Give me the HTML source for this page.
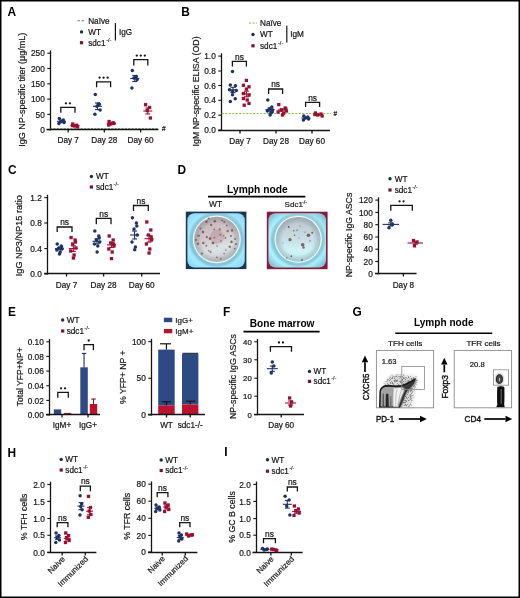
<!DOCTYPE html>
<html><head><meta charset="utf-8"><style>
html,body{margin:0;padding:0;background:#fff;overflow:hidden;}
svg{display:block;font-family:"Liberation Sans", sans-serif;will-change:transform;}
</style></head><body>
<svg width="520" height="598" viewBox="0 0 520 598">
<rect x="0" y="0" width="520" height="598" fill="#fff"/>
<defs>
<filter id="bl1" x="-20%" y="-20%" width="140%" height="140%"><feGaussianBlur stdDeviation="0.6"/></filter>
<filter id="bl2" x="-20%" y="-20%" width="140%" height="140%"><feGaussianBlur stdDeviation="1.4"/></filter>
<filter id="bl3" x="-50%" y="-50%" width="200%" height="200%"><feGaussianBlur stdDeviation="0.6"/></filter>
<radialGradient id="cyanA" cx="0.5" cy="0.5" r="0.62"><stop offset="0.55" stop-color="#4a7488"/><stop offset="0.63" stop-color="#86daf8"/><stop offset="0.8" stop-color="#a8ecff"/><stop offset="1" stop-color="#8fdcf8"/></radialGradient>
<radialGradient id="cyanB" cx="0.5" cy="0.5" r="0.62"><stop offset="0.55" stop-color="#52808f"/><stop offset="0.63" stop-color="#90e4f8"/><stop offset="0.8" stop-color="#b0f4ff"/><stop offset="1" stop-color="#86c6da"/></radialGradient>
<linearGradient id="insA" x1="0" y1="0" x2="0.3" y2="1"><stop offset="0" stop-color="#c2b5ba"/><stop offset="0.5" stop-color="#cdc6c8"/><stop offset="0.8" stop-color="#d9e4e4"/><stop offset="1" stop-color="#cfd3d5"/></linearGradient>
<linearGradient id="insB" x1="0" y1="0" x2="0" y2="1"><stop offset="0" stop-color="#bcc4cc"/><stop offset="0.45" stop-color="#c6dce2"/><stop offset="0.75" stop-color="#cdf4f6"/><stop offset="1" stop-color="#c4ecf0"/></linearGradient>
<radialGradient id="vig" cx="0.5" cy="0.5" r="0.5"><stop offset="0.7" stop-color="#000" stop-opacity="0"/><stop offset="1" stop-color="#405060" stop-opacity="0.25"/></radialGradient>
</defs>
<rect x="185.8" y="211.6" width="60.599999999999994" height="57.50000000000003" fill="#1f3452"/>
<rect x="187.4" y="213.2" width="57.39999999999999" height="54.300000000000026" rx="7" fill="url(#cyanA)" filter="url(#bl1)"/>
<circle cx="216.8" cy="239.4" r="25.7" fill="none" stroke="#4d6f82" stroke-width="2.0" filter="url(#bl2)" opacity="0.55"/>
<circle cx="216.8" cy="239.4" r="23.9" fill="#f2f6f6"/>
<circle cx="216.8" cy="239.4" r="22.7" fill="url(#insA)"/>
<circle cx="216.8" cy="239.4" r="22.7" fill="url(#vig)"/>
<g filter="url(#bl3)"><circle cx="217.0" cy="237.0" r="7.00" fill="#a0606a" opacity="0.25"/><circle cx="206.5" cy="221.7" r="1.17" fill="#7c4248" opacity="0.89"/><circle cx="214.8" cy="221.3" r="1.26" fill="#86474e" opacity="0.86"/><circle cx="222.0" cy="220.3" r="0.92" fill="#86474e" opacity="0.88"/><circle cx="200.4" cy="228.5" r="1.03" fill="#86474e" opacity="0.75"/><circle cx="214.3" cy="229.4" r="0.92" fill="#7c4248" opacity="0.70"/><circle cx="219.7" cy="229.4" r="1.26" fill="#905058" opacity="0.69"/><circle cx="226.8" cy="225.6" r="0.87" fill="#7c4248" opacity="0.76"/><circle cx="232.1" cy="230.4" r="1.29" fill="#86474e" opacity="0.70"/><circle cx="198.5" cy="235.7" r="1.29" fill="#86474e" opacity="0.72"/><circle cx="206.8" cy="237.1" r="1.07" fill="#7c4248" opacity="0.81"/><circle cx="210.0" cy="238.6" r="1.28" fill="#86474e" opacity="0.89"/><circle cx="214.4" cy="237.6" r="0.95" fill="#905058" opacity="0.75"/><circle cx="220.2" cy="234.7" r="0.93" fill="#905058" opacity="0.73"/><circle cx="223.8" cy="235.7" r="0.80" fill="#7c4248" opacity="0.83"/><circle cx="225.4" cy="238.1" r="0.98" fill="#905058" opacity="0.77"/><circle cx="235.2" cy="239.0" r="1.04" fill="#7c4248" opacity="0.69"/><circle cx="203.3" cy="242.9" r="1.27" fill="#7c4248" opacity="0.74"/><circle cx="206.3" cy="245.8" r="1.07" fill="#905058" opacity="0.74"/><circle cx="220.9" cy="241.0" r="0.80" fill="#86474e" opacity="0.83"/><circle cx="231.5" cy="241.9" r="1.28" fill="#86474e" opacity="0.84"/><circle cx="229.8" cy="246.7" r="1.27" fill="#905058" opacity="0.78"/><circle cx="208.6" cy="250.6" r="0.93" fill="#905058" opacity="0.68"/><circle cx="210.5" cy="252.0" r="1.20" fill="#905058" opacity="0.66"/><circle cx="224.1" cy="253.5" r="0.85" fill="#905058" opacity="0.78"/><circle cx="216.9" cy="257.3" r="0.87" fill="#905058" opacity="0.88"/><circle cx="220.8" cy="258.8" r="0.96" fill="#905058" opacity="0.73"/><circle cx="201.8" cy="253.5" r="1.11" fill="#7c4248" opacity="0.82"/><circle cx="234.7" cy="248.7" r="0.88" fill="#86474e" opacity="0.67"/><circle cx="197.9" cy="243.8" r="1.26" fill="#86474e" opacity="0.71"/><circle cx="211.1" cy="225.0" r="1.21" fill="#905058" opacity="0.81"/><circle cx="227.7" cy="231.0" r="1.29" fill="#7c4248" opacity="0.66"/><circle cx="203.0" cy="232.0" r="1.22" fill="#86474e" opacity="0.90"/><circle cx="217.1" cy="246.0" r="0.87" fill="#905058" opacity="0.68"/><circle cx="225.9" cy="250.0" r="0.87" fill="#905058" opacity="0.72"/><circle cx="213.0" cy="243.0" r="1.30" fill="#86474e" opacity="0.89"/><circle cx="231.0" cy="236.0" r="1.04" fill="#7c4248" opacity="0.73"/><circle cx="208.8" cy="218.5" r="1.04" fill="#86474e" opacity="0.68"/><circle cx="224.3" cy="222.0" r="1.07" fill="#86474e" opacity="0.81"/><circle cx="196.0" cy="240.0" r="0.97" fill="#86474e" opacity="0.77"/><circle cx="236.0" cy="244.0" r="1.07" fill="#7c4248" opacity="0.74"/></g>
<rect x="266.8" y="211.7" width="60.80000000000001" height="57.5" fill="#8a1a3a"/>
<rect x="268.40000000000003" y="213.29999999999998" width="57.60000000000001" height="54.3" rx="7" fill="url(#cyanB)" filter="url(#bl1)"/>
<circle cx="298.2" cy="239.3" r="25.400000000000002" fill="none" stroke="#4d6f82" stroke-width="2.0" filter="url(#bl2)" opacity="0.55"/>
<circle cx="298.2" cy="239.3" r="23.6" fill="#f2f6f6"/>
<circle cx="298.2" cy="239.3" r="22.400000000000002" fill="url(#insB)"/>
<circle cx="298.2" cy="239.3" r="22.400000000000002" fill="url(#vig)"/>
<g filter="url(#bl3)"><circle cx="288.7" cy="227.0" r="1.00" fill="#6e3e45" opacity="0.80"/><circle cx="293.8" cy="230.8" r="0.80" fill="#6e3e45" opacity="0.80"/><circle cx="297.0" cy="230.2" r="0.70" fill="#6e3e45" opacity="0.80"/><circle cx="290.0" cy="239.7" r="1.60" fill="#6e3e45" opacity="0.80"/><circle cx="294.5" cy="235.3" r="0.80" fill="#6e3e45" opacity="0.80"/><circle cx="308.4" cy="235.3" r="1.80" fill="#6e3e45" opacity="0.80"/><circle cx="312.2" cy="232.7" r="1.00" fill="#6e3e45" opacity="0.80"/><circle cx="302.7" cy="244.8" r="1.80" fill="#6e3e45" opacity="0.80"/><circle cx="303.5" cy="247.5" r="1.20" fill="#6e3e45" opacity="0.80"/><circle cx="291.3" cy="256.2" r="0.90" fill="#6e3e45" opacity="0.80"/><circle cx="302.0" cy="260.0" r="0.90" fill="#6e3e45" opacity="0.80"/><circle cx="286.8" cy="258.0" r="0.70" fill="#6e3e45" opacity="0.80"/><circle cx="299.0" cy="238.0" r="0.60" fill="#6e3e45" opacity="0.80"/><circle cx="305.0" cy="232.0" r="0.60" fill="#6e3e45" opacity="0.80"/><circle cx="283.0" cy="243.0" r="0.60" fill="#6e3e45" opacity="0.80"/><circle cx="300.0" cy="226.0" r="0.60" fill="#6e3e45" opacity="0.80"/><circle cx="310.0" cy="241.0" r="0.70" fill="#6e3e45" opacity="0.80"/></g>
<defs>
<filter id="fb1" x="-20%" y="-20%" width="140%" height="140%"><feGaussianBlur stdDeviation="0.9"/></filter>
<filter id="fb2" x="-20%" y="-20%" width="140%" height="140%"><feGaussianBlur stdDeviation="0.35"/></filter>
<filter id="fb3" x="-30%" y="-30%" width="160%" height="160%"><feGaussianBlur stdDeviation="1.8"/></filter>
<filter id="spk" x="0" y="0" width="100%" height="100%"><feTurbulence type="fractalNoise" baseFrequency="1.4" numOctaves="2" seed="4" result="n"/><feColorMatrix in="n" type="matrix" values="0 0 0 0 0  0 0 0 0 0  0 0 0 0 0  8 0 0 0 -3.9" result="a"/><feComposite in="SourceGraphic" in2="a" operator="in" result="c"/><feGaussianBlur in="c" stdDeviation="0.3"/></filter>
</defs>
<path d="M382,392 C383,384 387,378 393,375.5 C399,373.5 406,375 411,376 C414,376.5 416.5,376 418,377.5 C418,381 416,385 414.5,389 C413,394 412,400 411.5,407.4 L399,407.4 L404,395 L410,387 L414.6,379.7 L404,385.3 L395.5,386.5 L388.7,385.7 L382.8,387 Z" fill="#b4b4b4" filter="url(#fb3)" opacity="0.45"/>
<g filter="url(#spk)" opacity="0.6"><path d="M382,392 C383,384 387,378 393,375.5 C399,373.5 406,375 411,376 C414,376.5 416.5,376 418,377.5 C418,381 416,385 414.5,389 C413,394 412,400 411.5,407.4 L399,407.4 L404,395 L410,387 L414.6,379.7 L404,385.3 L395.5,386.5 L388.7,385.7 L382.8,387 Z" fill="#4a4a4a" filter="url(#fb3)"/></g>
<path d="M379.8,407.3 L380.2,391.2 C380.8,388.5 382,387.3 383.5,386.8 C385.5,386 387,385.7 388.7,385.7 C391,385.8 393.5,386.5 395.5,386.5 C397.5,386.4 399,386.2 400.6,386.1 C402,385.9 403,385.6 404,385.3 C405.5,384.5 407,383.8 408.2,383.1 C409.7,382.2 411,381.6 412.4,381 C413.2,380.5 414,380 414.6,379.7 C413.5,382.5 411.5,385.3 409.9,387 C408.5,388.2 407.5,389.3 406.5,390.3 C405.5,392 404.8,393.7 404,395.4 C403.1,397.7 402.2,400 401.4,402.2 C400.8,403.6 400.2,405 399.7,406.4 L399.6,407.3 Z" fill="#a2a2a2" stroke="#181818" stroke-width="1.5" filter="url(#fb2)"/>
<path d="M393.5,406.8 C393.3,400 393.2,394 393.8,388.2 C396,388 398.5,388.1 401,387.9 C402.8,387.7 404.3,387.6 405.3,388.3 C404.5,390.3 403.5,392 402.6,394 C401.6,396.5 400.6,399.5 399.8,402 C399.3,403.8 398.8,405.3 398.4,406.8 Z" fill="#f2f2f2" filter="url(#fb2)"/>
<path d="M395.8,406.5 C395.6,400 395.8,394 396.8,389.5 M398.2,406 C398.6,400 399.5,395 401.5,390" fill="none" stroke="#8a8a8a" stroke-width="0.5"/>
<path d="M402,386 L406,384.5 L410,382.3 L414.8,379.5 L415.5,381.5 L411.5,385.5 L408,389 L405.5,391.5 L404.3,389 Z" fill="#303030" filter="url(#fb1)"/>
<path d="M414.6,379.7 C413.5,382.5 411.5,385.3 409.9,387 C408.5,388.2 407.5,389.3 406.5,390.3 C405.5,392 404.8,393.7 404,395.4 C403.1,397.7 402.2,400 401.4,402.2 C400.8,403.6 400.2,405 399.7,406.4" fill="none" stroke="#3a3a3a" stroke-width="2.2" filter="url(#fb1)"/>
<path d="M383.5,386.6 C386,385.6 389,385.4 392,386 C395,386.4 399,386.2 402,385.8 C405,385 408,383.5 411,381.8 L414.6,379.7" fill="none" stroke="#1e1e1e" stroke-width="1.6" filter="url(#fb2)"/>
<path d="M385.6,407.2 L385.9,395 C386.3,393 388.2,393 388.5,395 L388.8,407.2 Z" fill="#262626" filter="url(#fb2)"/>
<path d="M382.5,407.2 L382.7,393.5 L383.8,393.5 L384,407.2 Z" fill="#505050" filter="url(#fb2)"/>
<path d="M390,407 L390.3,396 L391.3,396 L391.5,407 Z" fill="#6a6a6a" filter="url(#fb2)"/>
<ellipse cx="499.4" cy="378.9" rx="3.9" ry="5.3" fill="#9a9a9a" filter="url(#fb1)"/>
<ellipse cx="499.4" cy="379.1" rx="3.0" ry="4.3" fill="#484848" stroke="#1a1a1a" stroke-width="0.9" filter="url(#fb2)"/>
<ellipse cx="499.6" cy="379.6" rx="0.55" ry="1.9" fill="#cfcfcf" filter="url(#fb2)"/>
<path d="M497.3,387 C497,392 497,400 497.3,404.5 L496.2,407.3 L504.8,407.3 L504.2,404.5 C504.6,400 504.6,392 504.3,387 C503,386 498.6,386 497.3,387 Z" fill="#111" filter="url(#fb2)"/>
<line x1="501.2" y1="389" x2="501.2" y2="404" stroke="#999" stroke-width="0.7"/>
<text x="7.60" y="16.20" font-size="11.9" text-anchor="start" font-weight="bold" fill="#000">A</text>
<text x="24.60" y="89.70" font-size="9.6" text-anchor="middle" font-weight="normal" fill="#141414" stroke="#141414" stroke-width="0.2" transform="rotate(-90 24.60 89.70)" textLength="114" lengthAdjust="spacingAndGlyphs">IgG NP-specific titer (µg/mL)</text>
<line x1="50.50" y1="50.40" x2="50.50" y2="130.30" stroke="#141414" stroke-width="1.3" />
<line x1="47.30" y1="53.20" x2="50.50" y2="53.20" stroke="#141414" stroke-width="1.1" />
<text x="44.80" y="56.35" font-size="8.3" text-anchor="end" font-weight="normal" fill="#141414" stroke="#141414" stroke-width="0.2">250</text>
<line x1="47.30" y1="68.50" x2="50.50" y2="68.50" stroke="#141414" stroke-width="1.1" />
<text x="44.80" y="71.65" font-size="8.3" text-anchor="end" font-weight="normal" fill="#141414" stroke="#141414" stroke-width="0.2">200</text>
<line x1="47.30" y1="83.80" x2="50.50" y2="83.80" stroke="#141414" stroke-width="1.1" />
<text x="44.80" y="86.95" font-size="8.3" text-anchor="end" font-weight="normal" fill="#141414" stroke="#141414" stroke-width="0.2">150</text>
<line x1="47.30" y1="99.10" x2="50.50" y2="99.10" stroke="#141414" stroke-width="1.1" />
<text x="44.80" y="102.25" font-size="8.3" text-anchor="end" font-weight="normal" fill="#141414" stroke="#141414" stroke-width="0.2">100</text>
<line x1="47.30" y1="114.40" x2="50.50" y2="114.40" stroke="#141414" stroke-width="1.1" />
<text x="44.80" y="117.55" font-size="8.3" text-anchor="end" font-weight="normal" fill="#141414" stroke="#141414" stroke-width="0.2">50</text>
<line x1="47.30" y1="129.70" x2="50.50" y2="129.70" stroke="#141414" stroke-width="1.1" />
<text x="44.80" y="132.85" font-size="8.3" text-anchor="end" font-weight="normal" fill="#141414" stroke="#141414" stroke-width="0.2">0</text>
<line x1="50.00" y1="128.90" x2="158.50" y2="128.90" stroke="#3d6b1e" stroke-width="1.0" stroke-dasharray="2.2 1.2"/>
<line x1="46.50" y1="129.50" x2="158.50" y2="129.50" stroke="#141414" stroke-width="1.3" />
<line x1="68.20" y1="129.50" x2="68.20" y2="132.50" stroke="#141414" stroke-width="1.3" />
<line x1="104.30" y1="129.50" x2="104.30" y2="132.50" stroke="#141414" stroke-width="1.3" />
<line x1="140.60" y1="129.50" x2="140.60" y2="132.50" stroke="#141414" stroke-width="1.3" />
<text x="68.20" y="143.20" font-size="8.2" text-anchor="middle" font-weight="normal" fill="#141414" stroke="#141414" stroke-width="0.2">Day 7</text>
<text x="104.30" y="143.20" font-size="8.2" text-anchor="middle" font-weight="normal" fill="#141414" stroke="#141414" stroke-width="0.2">Day 28</text>
<text x="140.60" y="143.20" font-size="8.2" text-anchor="middle" font-weight="normal" fill="#141414" stroke="#141414" stroke-width="0.2">Day 60</text>
<text x="162.00" y="131.30" font-size="6.5" text-anchor="start" font-weight="normal" fill="#141414" stroke="#141414" stroke-width="0.2">#</text>
<line x1="77.50" y1="20.80" x2="85.50" y2="20.80" stroke="#777" stroke-width="1" stroke-dasharray="2.5 1.5"/>
<text x="88.20" y="23.60" font-size="8.2" text-anchor="start" font-weight="normal" fill="#141414" stroke="#141414" stroke-width="0.2">Naïve</text>
<circle cx="81.50" cy="31.90" r="1.7" fill="#1e2b55"/>
<text x="88.20" y="34.80" font-size="8.2" text-anchor="start" font-weight="normal" fill="#141414" stroke="#141414" stroke-width="0.2">WT</text>
<rect x="79.90" y="41.10" width="3.20" height="3.20" fill="#7a1232" />
<text x="88.20" y="45.50" font-size="8.2" text-anchor="start" font-weight="normal" fill="#141414" stroke="#141414" stroke-width="0.2">sdc1</text>
<text x="106.20" y="41.60" font-size="5.6" text-anchor="start" font-weight="normal" fill="#141414" stroke="#141414" stroke-width="0.15">-/-</text>
<line x1="115.40" y1="23.00" x2="115.40" y2="40.50" stroke="#141414" stroke-width="1.2" />
<text x="119.00" y="35.00" font-size="8.2" text-anchor="start" font-weight="normal" fill="#141414" stroke="#141414" stroke-width="0.2">IgG</text>
<circle cx="59.30" cy="118.50" r="1.75" fill="#1f3266"/>
<circle cx="63.30" cy="120.00" r="1.75" fill="#1f3266"/>
<circle cx="60.90" cy="121.50" r="1.75" fill="#1f3266"/>
<circle cx="64.10" cy="122.50" r="1.75" fill="#1f3266"/>
<circle cx="58.90" cy="123.50" r="1.75" fill="#1f3266"/>
<line x1="57.00" y1="121.30" x2="66.00" y2="121.30" stroke="#1f3266" stroke-width="1.1" />
<line x1="61.50" y1="120.00" x2="61.50" y2="122.60" stroke="#1f3266" stroke-width="1.1" />
<line x1="59.00" y1="120.00" x2="64.00" y2="120.00" stroke="#1f3266" stroke-width="1.1" />
<line x1="59.00" y1="122.60" x2="64.00" y2="122.60" stroke="#1f3266" stroke-width="1.1" />
<rect x="71.15" y="122.35" width="3.30" height="3.30" fill="#9a1032" />
<rect x="75.15" y="123.55" width="3.30" height="3.30" fill="#9a1032" />
<rect x="72.75" y="124.35" width="3.30" height="3.30" fill="#9a1032" />
<rect x="75.95" y="125.15" width="3.30" height="3.30" fill="#9a1032" />
<rect x="70.75" y="123.85" width="3.30" height="3.30" fill="#9a1032" />
<line x1="70.50" y1="125.50" x2="79.50" y2="125.50" stroke="#9a1032" stroke-width="1.1" />
<line x1="75.00" y1="124.80" x2="75.00" y2="126.20" stroke="#9a1032" stroke-width="1.1" />
<line x1="72.50" y1="124.80" x2="77.50" y2="124.80" stroke="#9a1032" stroke-width="1.1" />
<line x1="72.50" y1="126.20" x2="77.50" y2="126.20" stroke="#9a1032" stroke-width="1.1" />
<circle cx="95.30" cy="94.60" r="1.75" fill="#1f3266"/>
<circle cx="99.30" cy="104.30" r="1.75" fill="#1f3266"/>
<circle cx="96.90" cy="106.30" r="1.75" fill="#1f3266"/>
<circle cx="100.10" cy="109.90" r="1.75" fill="#1f3266"/>
<circle cx="94.90" cy="114.30" r="1.75" fill="#1f3266"/>
<circle cx="98.30" cy="104.00" r="1.75" fill="#1f3266"/>
<line x1="93.00" y1="106.30" x2="102.00" y2="106.30" stroke="#1f3266" stroke-width="1.1" />
<line x1="97.50" y1="103.00" x2="97.50" y2="109.60" stroke="#1f3266" stroke-width="1.1" />
<line x1="95.00" y1="103.00" x2="100.00" y2="103.00" stroke="#1f3266" stroke-width="1.1" />
<line x1="95.00" y1="109.60" x2="100.00" y2="109.60" stroke="#1f3266" stroke-width="1.1" />
<rect x="107.45" y="119.85" width="3.30" height="3.30" fill="#9a1032" />
<rect x="111.45" y="121.15" width="3.30" height="3.30" fill="#9a1032" />
<rect x="109.05" y="122.35" width="3.30" height="3.30" fill="#9a1032" />
<rect x="112.25" y="121.85" width="3.30" height="3.30" fill="#9a1032" />
<rect x="107.05" y="123.35" width="3.30" height="3.30" fill="#9a1032" />
<line x1="106.80" y1="123.50" x2="115.80" y2="123.50" stroke="#9a1032" stroke-width="1.1" />
<line x1="111.30" y1="122.60" x2="111.30" y2="124.40" stroke="#9a1032" stroke-width="1.1" />
<line x1="108.80" y1="122.60" x2="113.80" y2="122.60" stroke="#9a1032" stroke-width="1.1" />
<line x1="108.80" y1="124.40" x2="113.80" y2="124.40" stroke="#9a1032" stroke-width="1.1" />
<circle cx="132.30" cy="70.50" r="1.75" fill="#1f3266"/>
<circle cx="136.30" cy="76.40" r="1.75" fill="#1f3266"/>
<circle cx="133.90" cy="78.00" r="1.75" fill="#1f3266"/>
<circle cx="137.10" cy="79.50" r="1.75" fill="#1f3266"/>
<circle cx="131.90" cy="88.00" r="1.75" fill="#1f3266"/>
<line x1="130.30" y1="78.50" x2="139.30" y2="78.50" stroke="#1f3266" stroke-width="1.1" />
<line x1="134.80" y1="75.50" x2="134.80" y2="81.50" stroke="#1f3266" stroke-width="1.1" />
<line x1="132.30" y1="75.50" x2="137.30" y2="75.50" stroke="#1f3266" stroke-width="1.1" />
<line x1="132.30" y1="81.50" x2="137.30" y2="81.50" stroke="#1f3266" stroke-width="1.1" />
<rect x="143.95" y="103.05" width="3.30" height="3.30" fill="#9a1032" />
<rect x="147.95" y="105.85" width="3.30" height="3.30" fill="#9a1032" />
<rect x="145.55" y="108.95" width="3.30" height="3.30" fill="#9a1032" />
<rect x="148.75" y="116.35" width="3.30" height="3.30" fill="#9a1032" />
<line x1="143.30" y1="111.00" x2="152.30" y2="111.00" stroke="#9a1032" stroke-width="1.1" />
<line x1="147.80" y1="108.00" x2="147.80" y2="114.00" stroke="#9a1032" stroke-width="1.1" />
<line x1="145.30" y1="108.00" x2="150.30" y2="108.00" stroke="#9a1032" stroke-width="1.1" />
<line x1="145.30" y1="114.00" x2="150.30" y2="114.00" stroke="#9a1032" stroke-width="1.1" />
<polyline points="60.80,112.80 60.80,107.40 75.00,107.40 75.00,112.80" fill="none" stroke="#141414" stroke-width="1.3"/>
<circle cx="65.90" cy="103.30" r="1.15" fill="#141414"/>
<circle cx="69.90" cy="103.30" r="1.15" fill="#141414"/>
<polyline points="96.60,87.20 96.60,81.80 110.60,81.80 110.60,87.20" fill="none" stroke="#141414" stroke-width="1.3"/>
<circle cx="99.60" cy="77.70" r="1.15" fill="#141414"/>
<circle cx="103.60" cy="77.70" r="1.15" fill="#141414"/>
<circle cx="107.60" cy="77.70" r="1.15" fill="#141414"/>
<polyline points="133.80,65.60 133.80,59.70 147.80,59.70 147.80,65.60" fill="none" stroke="#141414" stroke-width="1.3"/>
<circle cx="136.80" cy="55.60" r="1.15" fill="#141414"/>
<circle cx="140.80" cy="55.60" r="1.15" fill="#141414"/>
<circle cx="144.80" cy="55.60" r="1.15" fill="#141414"/>
<text x="181.30" y="16.20" font-size="11.9" text-anchor="start" font-weight="bold" fill="#000">B</text>
<text x="198.60" y="91.40" font-size="9.4" text-anchor="middle" font-weight="normal" fill="#141414" stroke="#141414" stroke-width="0.2" transform="rotate(-90 198.60 91.40)" textLength="110" lengthAdjust="spacingAndGlyphs">IgM NP-specific ELISA (OD)</text>
<line x1="221.50" y1="53.30" x2="221.50" y2="130.60" stroke="#141414" stroke-width="1.3" />
<line x1="218.30" y1="56.10" x2="221.50" y2="56.10" stroke="#141414" stroke-width="1.1" />
<text x="215.80" y="59.25" font-size="8.3" text-anchor="end" font-weight="normal" fill="#141414" stroke="#141414" stroke-width="0.2">1.0</text>
<line x1="218.30" y1="71.00" x2="221.50" y2="71.00" stroke="#141414" stroke-width="1.1" />
<text x="215.80" y="74.15" font-size="8.3" text-anchor="end" font-weight="normal" fill="#141414" stroke="#141414" stroke-width="0.2">0.8</text>
<line x1="218.30" y1="85.50" x2="221.50" y2="85.50" stroke="#141414" stroke-width="1.1" />
<text x="215.80" y="88.65" font-size="8.3" text-anchor="end" font-weight="normal" fill="#141414" stroke="#141414" stroke-width="0.2">0.6</text>
<line x1="218.30" y1="100.30" x2="221.50" y2="100.30" stroke="#141414" stroke-width="1.1" />
<text x="215.80" y="103.45" font-size="8.3" text-anchor="end" font-weight="normal" fill="#141414" stroke="#141414" stroke-width="0.2">0.4</text>
<line x1="218.30" y1="115.20" x2="221.50" y2="115.20" stroke="#141414" stroke-width="1.1" />
<text x="215.80" y="118.35" font-size="8.3" text-anchor="end" font-weight="normal" fill="#141414" stroke="#141414" stroke-width="0.2">0.2</text>
<line x1="218.30" y1="130.00" x2="221.50" y2="130.00" stroke="#141414" stroke-width="1.1" />
<text x="215.80" y="133.15" font-size="8.3" text-anchor="end" font-weight="normal" fill="#141414" stroke="#141414" stroke-width="0.2">0.0</text>
<line x1="218.10" y1="130.50" x2="330.00" y2="130.50" stroke="#141414" stroke-width="1.3" />
<line x1="240.00" y1="130.50" x2="240.00" y2="133.50" stroke="#141414" stroke-width="1.3" />
<line x1="276.00" y1="130.50" x2="276.00" y2="133.50" stroke="#141414" stroke-width="1.3" />
<line x1="312.00" y1="130.50" x2="312.00" y2="133.50" stroke="#141414" stroke-width="1.3" />
<text x="240.00" y="143.50" font-size="8.2" text-anchor="middle" font-weight="normal" fill="#141414" stroke="#141414" stroke-width="0.2">Day 7</text>
<text x="276.00" y="143.50" font-size="8.2" text-anchor="middle" font-weight="normal" fill="#141414" stroke="#141414" stroke-width="0.2">Day 28</text>
<text x="312.00" y="143.50" font-size="8.2" text-anchor="middle" font-weight="normal" fill="#141414" stroke="#141414" stroke-width="0.2">Day 60</text>
<line x1="221.60" y1="113.60" x2="331.00" y2="113.60" stroke="#86c04a" stroke-width="1.0" stroke-dasharray="2.2 1.3"/>
<text x="333.50" y="116.00" font-size="6.5" text-anchor="start" font-weight="normal" fill="#141414" stroke="#141414" stroke-width="0.2">#</text>
<line x1="249.00" y1="23.10" x2="257.00" y2="23.10" stroke="#86c04a" stroke-width="1" stroke-dasharray="2.2 1.3"/>
<text x="260.00" y="25.90" font-size="8.2" text-anchor="start" font-weight="normal" fill="#141414" stroke="#141414" stroke-width="0.2">Naïve</text>
<circle cx="253.00" cy="34.50" r="1.7" fill="#1e2b55"/>
<text x="260.00" y="37.30" font-size="8.2" text-anchor="start" font-weight="normal" fill="#141414" stroke="#141414" stroke-width="0.2">WT</text>
<rect x="251.40" y="44.20" width="3.20" height="3.20" fill="#7a1232" />
<text x="260.00" y="48.60" font-size="8.2" text-anchor="start" font-weight="normal" fill="#141414" stroke="#141414" stroke-width="0.2">sdc1</text>
<text x="278.00" y="44.60" font-size="5.6" text-anchor="start" font-weight="normal" fill="#141414" stroke="#141414" stroke-width="0.15">-/-</text>
<line x1="286.80" y1="25.70" x2="286.80" y2="42.60" stroke="#141414" stroke-width="1.2" />
<text x="290.20" y="37.30" font-size="8.2" text-anchor="start" font-weight="normal" fill="#141414" stroke="#141414" stroke-width="0.2">IgM</text>
<circle cx="232.50" cy="71.40" r="1.75" fill="#1f3266"/>
<circle cx="230.30" cy="84.90" r="1.75" fill="#1f3266"/>
<circle cx="235.50" cy="85.70" r="1.75" fill="#1f3266"/>
<circle cx="229.50" cy="89.80" r="1.75" fill="#1f3266"/>
<circle cx="236.30" cy="90.50" r="1.75" fill="#1f3266"/>
<circle cx="232.50" cy="91.40" r="1.75" fill="#1f3266"/>
<circle cx="232.50" cy="94.80" r="1.75" fill="#1f3266"/>
<circle cx="235.20" cy="98.80" r="1.75" fill="#1f3266"/>
<circle cx="230.30" cy="101.50" r="1.75" fill="#1f3266"/>
<line x1="228.50" y1="89.80" x2="237.50" y2="89.80" stroke="#1f3266" stroke-width="1.1" />
<line x1="233.00" y1="87.30" x2="233.00" y2="92.50" stroke="#1f3266" stroke-width="1.1" />
<line x1="230.50" y1="87.30" x2="235.50" y2="87.30" stroke="#1f3266" stroke-width="1.1" />
<line x1="230.50" y1="92.50" x2="235.50" y2="92.50" stroke="#1f3266" stroke-width="1.1" />
<rect x="244.75" y="78.75" width="3.30" height="3.30" fill="#9a1032" />
<rect x="241.75" y="83.65" width="3.30" height="3.30" fill="#9a1032" />
<rect x="247.35" y="85.15" width="3.30" height="3.30" fill="#9a1032" />
<rect x="244.75" y="87.45" width="3.30" height="3.30" fill="#9a1032" />
<rect x="241.75" y="91.95" width="3.30" height="3.30" fill="#9a1032" />
<rect x="247.35" y="93.45" width="3.30" height="3.30" fill="#9a1032" />
<rect x="241.75" y="96.85" width="3.30" height="3.30" fill="#9a1032" />
<rect x="245.55" y="98.35" width="3.30" height="3.30" fill="#9a1032" />
<rect x="247.35" y="101.75" width="3.30" height="3.30" fill="#9a1032" />
<rect x="242.55" y="103.55" width="3.30" height="3.30" fill="#9a1032" />
<line x1="241.90" y1="94.00" x2="250.90" y2="94.00" stroke="#9a1032" stroke-width="1.1" />
<line x1="246.40" y1="91.20" x2="246.40" y2="96.80" stroke="#9a1032" stroke-width="1.1" />
<line x1="243.90" y1="91.20" x2="248.90" y2="91.20" stroke="#9a1032" stroke-width="1.1" />
<line x1="243.90" y1="96.80" x2="248.90" y2="96.80" stroke="#9a1032" stroke-width="1.1" />
<circle cx="267.80" cy="100.00" r="1.75" fill="#1f3266"/>
<circle cx="271.80" cy="107.00" r="1.75" fill="#1f3266"/>
<circle cx="269.40" cy="109.00" r="1.75" fill="#1f3266"/>
<circle cx="272.60" cy="110.00" r="1.75" fill="#1f3266"/>
<circle cx="267.40" cy="111.00" r="1.75" fill="#1f3266"/>
<circle cx="270.80" cy="113.00" r="1.75" fill="#1f3266"/>
<circle cx="270.10" cy="115.00" r="1.75" fill="#1f3266"/>
<circle cx="272.20" cy="112.00" r="1.75" fill="#1f3266"/>
<line x1="265.50" y1="109.60" x2="274.50" y2="109.60" stroke="#1f3266" stroke-width="1.1" />
<line x1="270.00" y1="108.00" x2="270.00" y2="111.20" stroke="#1f3266" stroke-width="1.1" />
<line x1="267.50" y1="108.00" x2="272.50" y2="108.00" stroke="#1f3266" stroke-width="1.1" />
<line x1="267.50" y1="111.20" x2="272.50" y2="111.20" stroke="#1f3266" stroke-width="1.1" />
<rect x="277.13" y="102.95" width="3.30" height="3.30" fill="#9a1032" />
<rect x="283.53" y="106.35" width="3.30" height="3.30" fill="#9a1032" />
<rect x="279.69" y="108.35" width="3.30" height="3.30" fill="#9a1032" />
<rect x="284.81" y="109.35" width="3.30" height="3.30" fill="#9a1032" />
<rect x="276.49" y="110.35" width="3.30" height="3.30" fill="#9a1032" />
<rect x="281.93" y="111.85" width="3.30" height="3.30" fill="#9a1032" />
<rect x="280.81" y="113.35" width="3.30" height="3.30" fill="#9a1032" />
<rect x="284.17" y="107.35" width="3.30" height="3.30" fill="#9a1032" />
<line x1="277.80" y1="110.00" x2="286.80" y2="110.00" stroke="#9a1032" stroke-width="1.1" />
<line x1="282.30" y1="108.80" x2="282.30" y2="111.20" stroke="#9a1032" stroke-width="1.1" />
<line x1="279.80" y1="108.80" x2="284.80" y2="108.80" stroke="#9a1032" stroke-width="1.1" />
<line x1="279.80" y1="111.20" x2="284.80" y2="111.20" stroke="#9a1032" stroke-width="1.1" />
<circle cx="303.80" cy="116.00" r="1.75" fill="#1f3266"/>
<circle cx="307.80" cy="117.00" r="1.75" fill="#1f3266"/>
<circle cx="305.40" cy="118.00" r="1.75" fill="#1f3266"/>
<circle cx="308.60" cy="119.00" r="1.75" fill="#1f3266"/>
<circle cx="303.40" cy="120.00" r="1.75" fill="#1f3266"/>
<line x1="301.50" y1="118.00" x2="310.50" y2="118.00" stroke="#1f3266" stroke-width="1.1" />
<line x1="306.00" y1="117.30" x2="306.00" y2="118.70" stroke="#1f3266" stroke-width="1.1" />
<line x1="303.50" y1="117.30" x2="308.50" y2="117.30" stroke="#1f3266" stroke-width="1.1" />
<line x1="303.50" y1="118.70" x2="308.50" y2="118.70" stroke="#1f3266" stroke-width="1.1" />
<rect x="313.77" y="111.35" width="3.30" height="3.30" fill="#9a1032" />
<rect x="319.37" y="112.35" width="3.30" height="3.30" fill="#9a1032" />
<rect x="316.01" y="113.35" width="3.30" height="3.30" fill="#9a1032" />
<rect x="320.49" y="114.35" width="3.30" height="3.30" fill="#9a1032" />
<rect x="313.21" y="112.85" width="3.30" height="3.30" fill="#9a1032" />
<line x1="314.00" y1="114.60" x2="323.00" y2="114.60" stroke="#9a1032" stroke-width="1.1" />
<line x1="318.50" y1="114.00" x2="318.50" y2="115.20" stroke="#9a1032" stroke-width="1.1" />
<line x1="316.00" y1="114.00" x2="321.00" y2="114.00" stroke="#9a1032" stroke-width="1.1" />
<line x1="316.00" y1="115.20" x2="321.00" y2="115.20" stroke="#9a1032" stroke-width="1.1" />
<polyline points="232.40,66.40 232.40,61.40 246.40,61.40 246.40,66.40" fill="none" stroke="#141414" stroke-width="1.3"/>
<text x="239.40" y="59.60" font-size="8.4" text-anchor="middle" font-weight="normal" fill="#141414" stroke="#141414" stroke-width="0.2">ns</text>
<polyline points="268.60,94.00 268.60,89.00 282.60,89.00 282.60,94.00" fill="none" stroke="#141414" stroke-width="1.3"/>
<text x="275.60" y="87.20" font-size="8.4" text-anchor="middle" font-weight="normal" fill="#141414" stroke="#141414" stroke-width="0.2">ns</text>
<polyline points="305.60,107.00 305.60,102.40 319.60,102.40 319.60,107.00" fill="none" stroke="#141414" stroke-width="1.3"/>
<text x="312.60" y="100.60" font-size="8.4" text-anchor="middle" font-weight="normal" fill="#141414" stroke="#141414" stroke-width="0.2">ns</text>
<text x="8.00" y="174.00" font-size="11.9" text-anchor="start" font-weight="bold" fill="#000">C</text>
<text x="22.20" y="235.70" font-size="9.6" text-anchor="middle" font-weight="normal" fill="#141414" stroke="#141414" stroke-width="0.2" transform="rotate(-90 22.20 235.70)" textLength="81" lengthAdjust="spacingAndGlyphs">IgG NP3/NP15 ratio</text>
<line x1="47.50" y1="194.80" x2="47.50" y2="274.50" stroke="#141414" stroke-width="1.3" />
<line x1="44.30" y1="197.60" x2="47.50" y2="197.60" stroke="#141414" stroke-width="1.1" />
<text x="41.80" y="200.75" font-size="8.3" text-anchor="end" font-weight="normal" fill="#141414" stroke="#141414" stroke-width="0.2">1.2</text>
<line x1="44.30" y1="223.00" x2="47.50" y2="223.00" stroke="#141414" stroke-width="1.1" />
<text x="41.80" y="226.15" font-size="8.3" text-anchor="end" font-weight="normal" fill="#141414" stroke="#141414" stroke-width="0.2">0.8</text>
<line x1="44.30" y1="248.60" x2="47.50" y2="248.60" stroke="#141414" stroke-width="1.1" />
<text x="41.80" y="251.75" font-size="8.3" text-anchor="end" font-weight="normal" fill="#141414" stroke="#141414" stroke-width="0.2">0.4</text>
<line x1="44.30" y1="273.90" x2="47.50" y2="273.90" stroke="#141414" stroke-width="1.1" />
<text x="41.80" y="277.05" font-size="8.3" text-anchor="end" font-weight="normal" fill="#141414" stroke="#141414" stroke-width="0.2">0.0</text>
<line x1="44.10" y1="273.50" x2="160.00" y2="273.50" stroke="#141414" stroke-width="1.3" />
<line x1="66.50" y1="273.50" x2="66.50" y2="276.50" stroke="#141414" stroke-width="1.3" />
<line x1="103.60" y1="273.50" x2="103.60" y2="276.50" stroke="#141414" stroke-width="1.3" />
<line x1="141.70" y1="273.50" x2="141.70" y2="276.50" stroke="#141414" stroke-width="1.3" />
<text x="66.50" y="288.00" font-size="8.2" text-anchor="middle" font-weight="normal" fill="#141414" stroke="#141414" stroke-width="0.2">Day 7</text>
<text x="103.60" y="288.00" font-size="8.2" text-anchor="middle" font-weight="normal" fill="#141414" stroke="#141414" stroke-width="0.2">Day 28</text>
<text x="141.70" y="288.00" font-size="8.2" text-anchor="middle" font-weight="normal" fill="#141414" stroke="#141414" stroke-width="0.2">Day 60</text>
<circle cx="91.40" cy="176.50" r="1.7" fill="#1e2b55"/>
<text x="96.00" y="179.30" font-size="8.2" text-anchor="start" font-weight="normal" fill="#141414" stroke="#141414" stroke-width="0.2">WT</text>
<rect x="89.80" y="185.40" width="3.20" height="3.20" fill="#7a1232" />
<text x="96.00" y="189.80" font-size="8.2" text-anchor="start" font-weight="normal" fill="#141414" stroke="#141414" stroke-width="0.2">sdc1</text>
<text x="113.60" y="186.00" font-size="5.6" text-anchor="start" font-weight="normal" fill="#141414" stroke="#141414" stroke-width="0.15">-/-</text>
<circle cx="57.20" cy="244.00" r="1.75" fill="#1f3266"/>
<circle cx="61.20" cy="246.00" r="1.75" fill="#1f3266"/>
<circle cx="58.80" cy="248.00" r="1.75" fill="#1f3266"/>
<circle cx="62.00" cy="249.00" r="1.75" fill="#1f3266"/>
<circle cx="56.80" cy="250.00" r="1.75" fill="#1f3266"/>
<circle cx="60.20" cy="252.00" r="1.75" fill="#1f3266"/>
<circle cx="59.50" cy="254.00" r="1.75" fill="#1f3266"/>
<circle cx="61.60" cy="247.00" r="1.75" fill="#1f3266"/>
<line x1="54.90" y1="248.60" x2="63.90" y2="248.60" stroke="#1f3266" stroke-width="1.1" />
<line x1="59.40" y1="247.50" x2="59.40" y2="249.70" stroke="#1f3266" stroke-width="1.1" />
<line x1="56.90" y1="247.50" x2="61.90" y2="247.50" stroke="#1f3266" stroke-width="1.1" />
<line x1="56.90" y1="249.70" x2="61.90" y2="249.70" stroke="#1f3266" stroke-width="1.1" />
<rect x="69.45" y="235.95" width="3.30" height="3.30" fill="#9a1032" />
<rect x="73.45" y="238.35" width="3.30" height="3.30" fill="#9a1032" />
<rect x="71.05" y="242.35" width="3.30" height="3.30" fill="#9a1032" />
<rect x="74.25" y="246.35" width="3.30" height="3.30" fill="#9a1032" />
<rect x="69.05" y="249.35" width="3.30" height="3.30" fill="#9a1032" />
<rect x="72.45" y="253.35" width="3.30" height="3.30" fill="#9a1032" />
<rect x="71.75" y="256.35" width="3.30" height="3.30" fill="#9a1032" />
<rect x="73.85" y="240.35" width="3.30" height="3.30" fill="#9a1032" />
<line x1="68.80" y1="248.60" x2="77.80" y2="248.60" stroke="#9a1032" stroke-width="1.1" />
<line x1="73.30" y1="245.80" x2="73.30" y2="251.40" stroke="#9a1032" stroke-width="1.1" />
<line x1="70.80" y1="245.80" x2="75.80" y2="245.80" stroke="#9a1032" stroke-width="1.1" />
<line x1="70.80" y1="251.40" x2="75.80" y2="251.40" stroke="#9a1032" stroke-width="1.1" />
<circle cx="94.80" cy="231.00" r="1.75" fill="#1f3266"/>
<circle cx="98.80" cy="236.00" r="1.75" fill="#1f3266"/>
<circle cx="96.40" cy="240.00" r="1.75" fill="#1f3266"/>
<circle cx="99.60" cy="242.00" r="1.75" fill="#1f3266"/>
<circle cx="94.40" cy="244.00" r="1.75" fill="#1f3266"/>
<circle cx="97.80" cy="246.00" r="1.75" fill="#1f3266"/>
<circle cx="97.10" cy="252.00" r="1.75" fill="#1f3266"/>
<circle cx="99.20" cy="238.00" r="1.75" fill="#1f3266"/>
<line x1="92.50" y1="241.30" x2="101.50" y2="241.30" stroke="#1f3266" stroke-width="1.1" />
<line x1="97.00" y1="238.80" x2="97.00" y2="243.80" stroke="#1f3266" stroke-width="1.1" />
<line x1="94.50" y1="238.80" x2="99.50" y2="238.80" stroke="#1f3266" stroke-width="1.1" />
<line x1="94.50" y1="243.80" x2="99.50" y2="243.80" stroke="#1f3266" stroke-width="1.1" />
<rect x="107.55" y="234.35" width="3.30" height="3.30" fill="#9a1032" />
<rect x="111.55" y="238.35" width="3.30" height="3.30" fill="#9a1032" />
<rect x="109.15" y="241.35" width="3.30" height="3.30" fill="#9a1032" />
<rect x="112.35" y="244.35" width="3.30" height="3.30" fill="#9a1032" />
<rect x="107.15" y="247.35" width="3.30" height="3.30" fill="#9a1032" />
<rect x="110.55" y="250.35" width="3.30" height="3.30" fill="#9a1032" />
<rect x="109.85" y="256.95" width="3.30" height="3.30" fill="#9a1032" />
<rect x="111.95" y="242.35" width="3.30" height="3.30" fill="#9a1032" />
<line x1="106.90" y1="244.90" x2="115.90" y2="244.90" stroke="#9a1032" stroke-width="1.1" />
<line x1="111.40" y1="242.40" x2="111.40" y2="247.40" stroke="#9a1032" stroke-width="1.1" />
<line x1="108.90" y1="242.40" x2="113.90" y2="242.40" stroke="#9a1032" stroke-width="1.1" />
<line x1="108.90" y1="247.40" x2="113.90" y2="247.40" stroke="#9a1032" stroke-width="1.1" />
<circle cx="132.40" cy="217.70" r="1.75" fill="#1f3266"/>
<circle cx="136.40" cy="223.00" r="1.75" fill="#1f3266"/>
<circle cx="134.00" cy="229.00" r="1.75" fill="#1f3266"/>
<circle cx="137.20" cy="235.00" r="1.75" fill="#1f3266"/>
<circle cx="132.00" cy="242.00" r="1.75" fill="#1f3266"/>
<circle cx="135.40" cy="247.00" r="1.75" fill="#1f3266"/>
<circle cx="134.70" cy="249.70" r="1.75" fill="#1f3266"/>
<circle cx="136.80" cy="226.00" r="1.75" fill="#1f3266"/>
<line x1="130.10" y1="235.00" x2="139.10" y2="235.00" stroke="#1f3266" stroke-width="1.1" />
<line x1="134.60" y1="231.00" x2="134.60" y2="239.00" stroke="#1f3266" stroke-width="1.1" />
<line x1="132.10" y1="231.00" x2="137.10" y2="231.00" stroke="#1f3266" stroke-width="1.1" />
<line x1="132.10" y1="239.00" x2="137.10" y2="239.00" stroke="#1f3266" stroke-width="1.1" />
<rect x="145.15" y="220.35" width="3.30" height="3.30" fill="#9a1032" />
<rect x="149.15" y="228.35" width="3.30" height="3.30" fill="#9a1032" />
<rect x="146.75" y="233.35" width="3.30" height="3.30" fill="#9a1032" />
<rect x="149.95" y="238.35" width="3.30" height="3.30" fill="#9a1032" />
<rect x="144.75" y="242.35" width="3.30" height="3.30" fill="#9a1032" />
<rect x="148.15" y="247.35" width="3.30" height="3.30" fill="#9a1032" />
<rect x="147.45" y="251.35" width="3.30" height="3.30" fill="#9a1032" />
<rect x="149.55" y="235.35" width="3.30" height="3.30" fill="#9a1032" />
<line x1="144.50" y1="238.70" x2="153.50" y2="238.70" stroke="#9a1032" stroke-width="1.1" />
<line x1="149.00" y1="235.30" x2="149.00" y2="242.10" stroke="#9a1032" stroke-width="1.1" />
<line x1="146.50" y1="235.30" x2="151.50" y2="235.30" stroke="#9a1032" stroke-width="1.1" />
<line x1="146.50" y1="242.10" x2="151.50" y2="242.10" stroke="#9a1032" stroke-width="1.1" />
<polyline points="57.20,232.00 57.20,227.00 72.00,227.00 72.00,232.00" fill="none" stroke="#141414" stroke-width="1.3"/>
<text x="64.60" y="225.20" font-size="8.4" text-anchor="middle" font-weight="normal" fill="#141414" stroke="#141414" stroke-width="0.2">ns</text>
<polyline points="96.30,224.30 96.30,218.30 111.00,218.30 111.00,224.30" fill="none" stroke="#141414" stroke-width="1.3"/>
<text x="103.65" y="216.50" font-size="8.4" text-anchor="middle" font-weight="normal" fill="#141414" stroke="#141414" stroke-width="0.2">ns</text>
<polyline points="133.50,211.00 133.50,205.50 148.30,205.50 148.30,211.00" fill="none" stroke="#141414" stroke-width="1.3"/>
<text x="140.90" y="203.70" font-size="8.4" text-anchor="middle" font-weight="normal" fill="#141414" stroke="#141414" stroke-width="0.2">ns</text>
<text x="177.60" y="174.20" font-size="11.9" text-anchor="start" font-weight="bold" fill="#000">D</text>
<text x="227.10" y="192.50" font-size="10.25" text-anchor="start" font-weight="bold" fill="#000">Lymph node</text>
<line x1="208.00" y1="196.60" x2="305.40" y2="196.60" stroke="#000" stroke-width="1.6" />
<text x="215.60" y="207.10" font-size="8.4" text-anchor="middle" font-weight="normal" fill="#141414" stroke="#141414" stroke-width="0.2">WT</text>
<text x="284.60" y="207.00" font-size="8" text-anchor="start" font-weight="normal" fill="#141414" stroke="#141414" stroke-width="0.2">Sdc1</text>
<text x="301.90" y="203.60" font-size="5.6" text-anchor="start" font-weight="normal" fill="#141414" stroke="#141414" stroke-width="0.15">-/-</text>
<text x="352.30" y="235.00" font-size="9.2" text-anchor="middle" font-weight="normal" fill="#141414" stroke="#141414" stroke-width="0.2" transform="rotate(-90 352.30 235.00)" textLength="84.5" lengthAdjust="spacingAndGlyphs">NP-specific IgG ASCs</text>
<line x1="378.50" y1="197.30" x2="378.50" y2="274.20" stroke="#141414" stroke-width="1.3" />
<line x1="375.30" y1="200.10" x2="378.50" y2="200.10" stroke="#141414" stroke-width="1.1" />
<text x="372.80" y="203.25" font-size="8.3" text-anchor="end" font-weight="normal" fill="#141414" stroke="#141414" stroke-width="0.2">120</text>
<line x1="375.30" y1="212.40" x2="378.50" y2="212.40" stroke="#141414" stroke-width="1.1" />
<text x="372.80" y="215.55" font-size="8.3" text-anchor="end" font-weight="normal" fill="#141414" stroke="#141414" stroke-width="0.2">100</text>
<line x1="375.30" y1="224.70" x2="378.50" y2="224.70" stroke="#141414" stroke-width="1.1" />
<text x="372.80" y="227.85" font-size="8.3" text-anchor="end" font-weight="normal" fill="#141414" stroke="#141414" stroke-width="0.2">80</text>
<line x1="375.30" y1="237.00" x2="378.50" y2="237.00" stroke="#141414" stroke-width="1.1" />
<text x="372.80" y="240.15" font-size="8.3" text-anchor="end" font-weight="normal" fill="#141414" stroke="#141414" stroke-width="0.2">60</text>
<line x1="375.30" y1="249.20" x2="378.50" y2="249.20" stroke="#141414" stroke-width="1.1" />
<text x="372.80" y="252.35" font-size="8.3" text-anchor="end" font-weight="normal" fill="#141414" stroke="#141414" stroke-width="0.2">40</text>
<line x1="375.30" y1="261.50" x2="378.50" y2="261.50" stroke="#141414" stroke-width="1.1" />
<text x="372.80" y="264.65" font-size="8.3" text-anchor="end" font-weight="normal" fill="#141414" stroke="#141414" stroke-width="0.2">20</text>
<line x1="375.30" y1="273.60" x2="378.50" y2="273.60" stroke="#141414" stroke-width="1.1" />
<text x="372.80" y="276.75" font-size="8.3" text-anchor="end" font-weight="normal" fill="#141414" stroke="#141414" stroke-width="0.2">0</text>
<line x1="375.00" y1="273.50" x2="416.50" y2="273.50" stroke="#141414" stroke-width="1.3" />
<line x1="403.40" y1="273.50" x2="403.40" y2="276.50" stroke="#141414" stroke-width="1.3" />
<text x="403.40" y="288.00" font-size="8.2" text-anchor="middle" font-weight="normal" fill="#141414" stroke="#141414" stroke-width="0.2">Day 8</text>
<circle cx="390.00" cy="178.80" r="1.7" fill="#1e2b55"/>
<text x="394.70" y="181.60" font-size="8.2" text-anchor="start" font-weight="normal" fill="#141414" stroke="#141414" stroke-width="0.2">WT</text>
<rect x="388.40" y="188.40" width="3.20" height="3.20" fill="#7a1232" />
<text x="394.70" y="192.80" font-size="8.2" text-anchor="start" font-weight="normal" fill="#141414" stroke="#141414" stroke-width="0.2">sdc1</text>
<text x="412.30" y="189.00" font-size="5.6" text-anchor="start" font-weight="normal" fill="#141414" stroke="#141414" stroke-width="0.15">-/-</text>
<circle cx="390.80" cy="220.20" r="1.75" fill="#1f3266"/>
<circle cx="392.50" cy="224.50" r="1.75" fill="#1f3266"/>
<circle cx="389.00" cy="227.80" r="1.75" fill="#1f3266"/>
<line x1="382.55" y1="224.40" x2="399.05" y2="224.40" stroke="#1f3266" stroke-width="1.1" />
<line x1="390.80" y1="222.80" x2="390.80" y2="226.00" stroke="#1f3266" stroke-width="1.1" />
<line x1="388.30" y1="222.80" x2="393.30" y2="222.80" stroke="#1f3266" stroke-width="1.1" />
<line x1="388.30" y1="226.00" x2="393.30" y2="226.00" stroke="#1f3266" stroke-width="1.1" />
<rect x="411.85" y="238.85" width="3.30" height="3.30" fill="#9a1032" />
<rect x="415.35" y="240.35" width="3.30" height="3.30" fill="#9a1032" />
<rect x="412.85" y="244.15" width="3.30" height="3.30" fill="#9a1032" />
<line x1="407.55" y1="243.00" x2="423.05" y2="243.00" stroke="#9a1032" stroke-width="1.1" />
<line x1="415.30" y1="241.80" x2="415.30" y2="244.20" stroke="#9a1032" stroke-width="1.1" />
<line x1="412.80" y1="241.80" x2="417.80" y2="241.80" stroke="#9a1032" stroke-width="1.1" />
<line x1="412.80" y1="244.20" x2="417.80" y2="244.20" stroke="#9a1032" stroke-width="1.1" />
<polyline points="390.80,210.80 390.80,205.40 412.30,205.40 412.30,210.80" fill="none" stroke="#141414" stroke-width="1.3"/>
<circle cx="399.55" cy="201.30" r="1.15" fill="#141414"/>
<circle cx="403.55" cy="201.30" r="1.15" fill="#141414"/>
<text x="8.00" y="316.20" font-size="11.9" text-anchor="start" font-weight="bold" fill="#000">E</text>
<text x="22.60" y="376.80" font-size="9.4" text-anchor="middle" font-weight="normal" fill="#141414" stroke="#141414" stroke-width="0.2" transform="rotate(-90 22.60 376.80)" textLength="59" lengthAdjust="spacingAndGlyphs">Total YFP+NP+</text>
<line x1="49.50" y1="339.00" x2="49.50" y2="415.50" stroke="#141414" stroke-width="1.3" />
<line x1="46.30" y1="341.80" x2="49.50" y2="341.80" stroke="#141414" stroke-width="1.1" />
<text x="43.80" y="344.95" font-size="8.3" text-anchor="end" font-weight="normal" fill="#141414" stroke="#141414" stroke-width="0.2">0.10</text>
<line x1="46.30" y1="356.40" x2="49.50" y2="356.40" stroke="#141414" stroke-width="1.1" />
<text x="43.80" y="359.55" font-size="8.3" text-anchor="end" font-weight="normal" fill="#141414" stroke="#141414" stroke-width="0.2">0.08</text>
<line x1="46.30" y1="371.10" x2="49.50" y2="371.10" stroke="#141414" stroke-width="1.1" />
<text x="43.80" y="374.25" font-size="8.3" text-anchor="end" font-weight="normal" fill="#141414" stroke="#141414" stroke-width="0.2">0.06</text>
<line x1="46.30" y1="385.70" x2="49.50" y2="385.70" stroke="#141414" stroke-width="1.1" />
<text x="43.80" y="388.85" font-size="8.3" text-anchor="end" font-weight="normal" fill="#141414" stroke="#141414" stroke-width="0.2">0.04</text>
<line x1="46.30" y1="400.40" x2="49.50" y2="400.40" stroke="#141414" stroke-width="1.1" />
<text x="43.80" y="403.55" font-size="8.3" text-anchor="end" font-weight="normal" fill="#141414" stroke="#141414" stroke-width="0.2">0.02</text>
<line x1="46.30" y1="414.90" x2="49.50" y2="414.90" stroke="#141414" stroke-width="1.1" />
<text x="43.80" y="418.05" font-size="8.3" text-anchor="end" font-weight="normal" fill="#141414" stroke="#141414" stroke-width="0.2">0.00</text>
<rect x="53.80" y="409.40" width="7.40" height="5.50" fill="#2e4a85" />
<rect x="63.90" y="412.90" width="7.40" height="2.00" fill="#bb1230" />
<rect x="80.30" y="367.30" width="7.50" height="47.60" fill="#2e4a85" />
<rect x="89.80" y="404.00" width="7.40" height="10.90" fill="#bb1230" />
<line x1="84.05" y1="353.40" x2="84.05" y2="367.30" stroke="#1e3060" stroke-width="1.1" />
<line x1="81.80" y1="353.40" x2="86.30" y2="353.40" stroke="#1e3060" stroke-width="1.1" />
<line x1="93.50" y1="399.00" x2="93.50" y2="404.00" stroke="#8a1028" stroke-width="1.1" />
<line x1="91.20" y1="399.00" x2="95.80" y2="399.00" stroke="#8a1028" stroke-width="1.1" />
<line x1="46.00" y1="414.50" x2="100.00" y2="414.50" stroke="#141414" stroke-width="1.3" />
<line x1="62.00" y1="414.50" x2="62.00" y2="417.50" stroke="#141414" stroke-width="1.3" />
<line x1="88.00" y1="414.50" x2="88.00" y2="417.50" stroke="#141414" stroke-width="1.3" />
<text x="62.00" y="428.30" font-size="8.2" text-anchor="middle" font-weight="normal" fill="#141414" stroke="#141414" stroke-width="0.2">IgM+</text>
<text x="88.00" y="428.30" font-size="8.2" text-anchor="middle" font-weight="normal" fill="#141414" stroke="#141414" stroke-width="0.2">IgG+</text>
<polyline points="57.80,397.80 57.80,392.40 68.30,392.40 68.30,397.80" fill="none" stroke="#141414" stroke-width="1.3"/>
<circle cx="61.05" cy="388.30" r="1.15" fill="#141414"/>
<circle cx="65.05" cy="388.30" r="1.15" fill="#141414"/>
<polyline points="84.00,350.20 84.00,344.60 93.40,344.60 93.40,350.20" fill="none" stroke="#141414" stroke-width="1.3"/>
<circle cx="88.70" cy="340.50" r="1.15" fill="#141414"/>
<circle cx="62.70" cy="320.00" r="1.7" fill="#1e2b55"/>
<text x="66.70" y="322.80" font-size="8.2" text-anchor="start" font-weight="normal" fill="#141414" stroke="#141414" stroke-width="0.2">WT</text>
<rect x="61.10" y="329.40" width="3.20" height="3.20" fill="#7a1232" />
<text x="66.70" y="333.80" font-size="8.2" text-anchor="start" font-weight="normal" fill="#141414" stroke="#141414" stroke-width="0.2">sdc1</text>
<text x="84.30" y="330.00" font-size="5.6" text-anchor="start" font-weight="normal" fill="#141414" stroke="#141414" stroke-width="0.15">-/-</text>
<text x="125.60" y="377.30" font-size="9.0" text-anchor="middle" font-weight="normal" fill="#141414" stroke="#141414" stroke-width="0.2" transform="rotate(-90 125.60 377.30)" textLength="53.5" lengthAdjust="spacingAndGlyphs">% YFP+ NP +</text>
<line x1="151.50" y1="338.80" x2="151.50" y2="415.50" stroke="#141414" stroke-width="1.3" />
<line x1="148.30" y1="341.60" x2="151.50" y2="341.60" stroke="#141414" stroke-width="1.1" />
<text x="145.80" y="344.75" font-size="8.3" text-anchor="end" font-weight="normal" fill="#141414" stroke="#141414" stroke-width="0.2">100</text>
<line x1="148.30" y1="378.30" x2="151.50" y2="378.30" stroke="#141414" stroke-width="1.1" />
<text x="145.80" y="381.45" font-size="8.3" text-anchor="end" font-weight="normal" fill="#141414" stroke="#141414" stroke-width="0.2">50</text>
<line x1="148.30" y1="414.90" x2="151.50" y2="414.90" stroke="#141414" stroke-width="1.1" />
<text x="145.80" y="418.05" font-size="8.3" text-anchor="end" font-weight="normal" fill="#141414" stroke="#141414" stroke-width="0.2">0</text>
<rect x="158.20" y="349.60" width="16.50" height="56.00" fill="#2e4a85" />
<rect x="158.20" y="405.50" width="16.50" height="9.40" fill="#bb1230" />
<rect x="182.00" y="353.80" width="16.40" height="50.60" fill="#2e4a85" />
<rect x="182.00" y="404.40" width="16.40" height="10.50" fill="#bb1230" />
<line x1="166.45" y1="343.80" x2="166.45" y2="349.60" stroke="#141414" stroke-width="1.2" />
<line x1="160.00" y1="343.80" x2="171.00" y2="343.80" stroke="#141414" stroke-width="1.2" />
<line x1="166.45" y1="401.80" x2="166.45" y2="405.50" stroke="#141414" stroke-width="1.2" />
<line x1="162.00" y1="401.80" x2="171.00" y2="401.80" stroke="#141414" stroke-width="1.2" />
<line x1="182.50" y1="353.30" x2="198.00" y2="353.30" stroke="#141414" stroke-width="1.0" />
<line x1="190.20" y1="401.20" x2="190.20" y2="404.40" stroke="#141414" stroke-width="1.2" />
<line x1="186.00" y1="401.20" x2="195.00" y2="401.20" stroke="#141414" stroke-width="1.2" />
<line x1="148.00" y1="414.50" x2="205.00" y2="414.50" stroke="#141414" stroke-width="1.3" />
<line x1="166.50" y1="414.50" x2="166.50" y2="417.50" stroke="#141414" stroke-width="1.3" />
<line x1="190.20" y1="414.50" x2="190.20" y2="417.50" stroke="#141414" stroke-width="1.3" />
<text x="166.50" y="428.30" font-size="8.2" text-anchor="middle" font-weight="normal" fill="#141414" stroke="#141414" stroke-width="0.2">WT</text>
<text x="190.20" y="428.30" font-size="8.2" text-anchor="middle" font-weight="normal" fill="#141414" stroke="#141414" stroke-width="0.2">sdc1-/-</text>
<rect x="163.90" y="317.70" width="8.40" height="4.50" fill="#2e4a85" />
<text x="175.30" y="322.60" font-size="8" text-anchor="start" font-weight="normal" fill="#141414" stroke="#141414" stroke-width="0.2">IgG+</text>
<rect x="163.90" y="329.00" width="8.40" height="4.30" fill="#bb1230" />
<text x="175.30" y="333.80" font-size="8" text-anchor="start" font-weight="normal" fill="#141414" stroke="#141414" stroke-width="0.2">IgM+</text>
<text x="222.90" y="315.60" font-size="11.9" text-anchor="start" font-weight="bold" fill="#000">F</text>
<text x="249.80" y="326.50" font-size="10.15" text-anchor="start" font-weight="bold" fill="#000">Bone marrow</text>
<line x1="243.50" y1="331.60" x2="319.60" y2="331.60" stroke="#000" stroke-width="1.6" />
<text x="236.20" y="376.50" font-size="9.2" text-anchor="middle" font-weight="normal" fill="#141414" stroke="#141414" stroke-width="0.2" transform="rotate(-90 236.20 376.50)" textLength="85" lengthAdjust="spacingAndGlyphs">NP-specific IgG ASCs</text>
<line x1="257.50" y1="339.00" x2="257.50" y2="415.20" stroke="#141414" stroke-width="1.3" />
<line x1="254.30" y1="341.80" x2="257.50" y2="341.80" stroke="#141414" stroke-width="1.1" />
<text x="251.80" y="344.76" font-size="7.8" text-anchor="end" font-weight="normal" fill="#141414" stroke="#141414" stroke-width="0.2">40</text>
<line x1="254.30" y1="359.80" x2="257.50" y2="359.80" stroke="#141414" stroke-width="1.1" />
<text x="251.80" y="362.76" font-size="7.8" text-anchor="end" font-weight="normal" fill="#141414" stroke="#141414" stroke-width="0.2">30</text>
<line x1="254.30" y1="378.20" x2="257.50" y2="378.20" stroke="#141414" stroke-width="1.1" />
<text x="251.80" y="381.16" font-size="7.8" text-anchor="end" font-weight="normal" fill="#141414" stroke="#141414" stroke-width="0.2">20</text>
<line x1="254.30" y1="396.20" x2="257.50" y2="396.20" stroke="#141414" stroke-width="1.1" />
<text x="251.80" y="399.16" font-size="7.8" text-anchor="end" font-weight="normal" fill="#141414" stroke="#141414" stroke-width="0.2">10</text>
<line x1="254.30" y1="414.60" x2="257.50" y2="414.60" stroke="#141414" stroke-width="1.1" />
<text x="251.80" y="417.56" font-size="7.8" text-anchor="end" font-weight="normal" fill="#141414" stroke="#141414" stroke-width="0.2">0</text>
<line x1="254.00" y1="414.50" x2="304.00" y2="414.50" stroke="#141414" stroke-width="1.3" />
<line x1="281.20" y1="414.50" x2="281.20" y2="417.50" stroke="#141414" stroke-width="1.3" />
<text x="281.20" y="428.30" font-size="8.2" text-anchor="middle" font-weight="normal" fill="#141414" stroke="#141414" stroke-width="0.2">Day 60</text>
<circle cx="272.30" cy="362.00" r="1.75" fill="#1f3266"/>
<circle cx="273.80" cy="366.00" r="1.75" fill="#1f3266"/>
<circle cx="271.30" cy="373.00" r="1.75" fill="#1f3266"/>
<line x1="266.80" y1="368.70" x2="277.80" y2="368.70" stroke="#1f3266" stroke-width="1.1" />
<line x1="272.30" y1="366.00" x2="272.30" y2="371.40" stroke="#1f3266" stroke-width="1.1" />
<line x1="269.80" y1="366.00" x2="274.80" y2="366.00" stroke="#1f3266" stroke-width="1.1" />
<line x1="269.80" y1="371.40" x2="274.80" y2="371.40" stroke="#1f3266" stroke-width="1.1" />
<rect x="287.95" y="396.35" width="3.30" height="3.30" fill="#9a1032" />
<rect x="289.95" y="400.35" width="3.30" height="3.30" fill="#9a1032" />
<rect x="288.95" y="404.35" width="3.30" height="3.30" fill="#9a1032" />
<line x1="285.10" y1="403.00" x2="296.10" y2="403.00" stroke="#9a1032" stroke-width="1.1" />
<line x1="290.60" y1="401.00" x2="290.60" y2="405.00" stroke="#9a1032" stroke-width="1.1" />
<line x1="288.10" y1="401.00" x2="293.10" y2="401.00" stroke="#9a1032" stroke-width="1.1" />
<line x1="288.10" y1="405.00" x2="293.10" y2="405.00" stroke="#9a1032" stroke-width="1.1" />
<polyline points="270.40,351.70 270.40,346.60 291.50,346.60 291.50,351.70" fill="none" stroke="#141414" stroke-width="1.3"/>
<circle cx="278.95" cy="342.50" r="1.15" fill="#141414"/>
<circle cx="282.95" cy="342.50" r="1.15" fill="#141414"/>
<circle cx="309.50" cy="371.40" r="1.7" fill="#1e2b55"/>
<text x="313.60" y="374.20" font-size="8.2" text-anchor="start" font-weight="normal" fill="#141414" stroke="#141414" stroke-width="0.2">WT</text>
<rect x="307.90" y="379.80" width="3.20" height="3.20" fill="#7a1232" />
<text x="313.60" y="384.20" font-size="8.2" text-anchor="start" font-weight="normal" fill="#141414" stroke="#141414" stroke-width="0.2">sdc1</text>
<text x="331.20" y="380.40" font-size="5.6" text-anchor="start" font-weight="normal" fill="#141414" stroke="#141414" stroke-width="0.15">-/-</text>
<text x="352.40" y="316.10" font-size="11.9" text-anchor="start" font-weight="bold" fill="#000">G</text>
<text x="413.90" y="326.20" font-size="10.1" text-anchor="start" font-weight="bold" fill="#000">Lymph node</text>
<line x1="395.30" y1="333.20" x2="492.20" y2="333.20" stroke="#000" stroke-width="1.6" />
<text x="405.20" y="345.60" font-size="8.1" text-anchor="middle" font-weight="normal" fill="#141414" stroke="#141414" stroke-width="0.2">TFH cells</text>
<text x="483.50" y="345.60" font-size="8.1" text-anchor="middle" font-weight="normal" fill="#141414" stroke="#141414" stroke-width="0.2">TFR cells</text>
<rect x="376.40" y="350.40" width="57.20" height="57.40" fill="none" stroke="#8a8a8a" stroke-width="0.9"/>
<rect x="454.20" y="350.40" width="57.40" height="57.40" fill="none" stroke="#8a8a8a" stroke-width="0.9"/>
<rect x="401.80" y="366.50" width="22.60" height="22.90" fill="none" stroke="#8a8a8a" stroke-width="0.8"/>
<rect x="493.50" y="369.80" width="15.10" height="15.40" fill="none" stroke="#8a8a8a" stroke-width="0.8"/>
<text x="381.70" y="363.80" font-size="7.6" text-anchor="start" font-weight="normal" fill="#141414" stroke="#141414" stroke-width="0.2">1.63</text>
<text x="469.80" y="366.60" font-size="7.7" text-anchor="start" font-weight="normal" fill="#141414" stroke="#141414" stroke-width="0.2">20.8</text>
<text x="368.60" y="400.20" font-size="9.6" text-anchor="start" font-weight="normal" fill="#141414" stroke="#141414" stroke-width="0.45" transform="rotate(-90 368.60 400.20)" textLength="26.7" lengthAdjust="spacingAndGlyphs">CXCR5</text>
<text x="447.90" y="398.60" font-size="9.6" text-anchor="start" font-weight="normal" fill="#141414" stroke="#141414" stroke-width="0.45" transform="rotate(-90 447.90 398.60)" textLength="23.6" lengthAdjust="spacingAndGlyphs">Foxp3</text>
<text x="376.00" y="422.20" font-size="9.8" text-anchor="start" font-weight="normal" fill="#141414" stroke="#141414" stroke-width="0.45" textLength="18.2" lengthAdjust="spacingAndGlyphs">PD-1</text>
<text x="464.50" y="422.20" font-size="9.8" text-anchor="start" font-weight="normal" fill="#141414" stroke="#141414" stroke-width="0.45" textLength="16.5" lengthAdjust="spacingAndGlyphs">CD4</text>
<line x1="365.00" y1="372.00" x2="365.00" y2="362.30" stroke="#000" stroke-width="1.7" />
<polygon points="365.00,355.50 368.20,362.30 361.80,362.30" fill="#000"/>
<line x1="444.30" y1="372.30" x2="444.30" y2="364.60" stroke="#000" stroke-width="1.7" />
<polygon points="444.30,357.80 447.50,364.60 441.10,364.60" fill="#000"/>
<line x1="398.80" y1="419.00" x2="420.00" y2="419.00" stroke="#000" stroke-width="1.7" />
<polygon points="426.80,419.00 420.00,422.20 420.00,415.80" fill="#000"/>
<line x1="484.30" y1="419.00" x2="505.50" y2="419.00" stroke="#000" stroke-width="1.7" />
<polygon points="512.30,419.00 505.50,422.20 505.50,415.80" fill="#000"/>
<text x="7.60" y="456.60" font-size="11.9" text-anchor="start" font-weight="bold" fill="#000">H</text>
<text x="26.60" y="516.80" font-size="9.7" text-anchor="middle" font-weight="normal" fill="#141414" stroke="#141414" stroke-width="0.2" transform="rotate(-90 26.60 516.80)" textLength="46.2" lengthAdjust="spacingAndGlyphs">% TFH cells</text>
<line x1="50.50" y1="481.70" x2="50.50" y2="553.00" stroke="#141414" stroke-width="1.3" />
<line x1="47.30" y1="484.50" x2="50.50" y2="484.50" stroke="#141414" stroke-width="1.1" />
<text x="44.80" y="487.65" font-size="8.3" text-anchor="end" font-weight="normal" fill="#141414" stroke="#141414" stroke-width="0.2">2.0</text>
<line x1="47.30" y1="501.40" x2="50.50" y2="501.40" stroke="#141414" stroke-width="1.1" />
<text x="44.80" y="504.55" font-size="8.3" text-anchor="end" font-weight="normal" fill="#141414" stroke="#141414" stroke-width="0.2">1.5</text>
<line x1="47.30" y1="518.50" x2="50.50" y2="518.50" stroke="#141414" stroke-width="1.1" />
<text x="44.80" y="521.65" font-size="8.3" text-anchor="end" font-weight="normal" fill="#141414" stroke="#141414" stroke-width="0.2">1.0</text>
<line x1="47.30" y1="535.30" x2="50.50" y2="535.30" stroke="#141414" stroke-width="1.1" />
<text x="44.80" y="538.45" font-size="8.3" text-anchor="end" font-weight="normal" fill="#141414" stroke="#141414" stroke-width="0.2">0.5</text>
<line x1="47.30" y1="552.40" x2="50.50" y2="552.40" stroke="#141414" stroke-width="1.1" />
<text x="44.80" y="555.55" font-size="8.3" text-anchor="end" font-weight="normal" fill="#141414" stroke="#141414" stroke-width="0.2">0.0</text>
<line x1="47.30" y1="552.50" x2="96.40" y2="552.50" stroke="#141414" stroke-width="1.3" />
<line x1="62.20" y1="552.50" x2="62.20" y2="555.50" stroke="#141414" stroke-width="1.3" />
<line x1="85.30" y1="552.50" x2="85.30" y2="555.50" stroke="#141414" stroke-width="1.3" />
<text x="65.50" y="559.50" font-size="8" text-anchor="end" font-weight="normal" fill="#141414" stroke="#141414" stroke-width="0.2" transform="rotate(-45 65.50 559.50)">Naive</text>
<text x="88.60" y="559.50" font-size="8" text-anchor="end" font-weight="normal" fill="#141414" stroke="#141414" stroke-width="0.2" transform="rotate(-45 88.60 559.50)">Immunized</text>
<circle cx="61.20" cy="459.40" r="1.7" fill="#1e2b55"/>
<text x="65.30" y="462.20" font-size="8.2" text-anchor="start" font-weight="normal" fill="#141414" stroke="#141414" stroke-width="0.2">WT</text>
<rect x="59.60" y="468.40" width="3.20" height="3.20" fill="#7a1232" />
<text x="65.30" y="472.80" font-size="8.2" text-anchor="start" font-weight="normal" fill="#141414" stroke="#141414" stroke-width="0.2">sdc1</text>
<text x="82.90" y="469.00" font-size="5.6" text-anchor="start" font-weight="normal" fill="#141414" stroke="#141414" stroke-width="0.15">-/-</text>
<circle cx="56.06" cy="533.00" r="1.75" fill="#1f3266"/>
<circle cx="58.86" cy="535.50" r="1.75" fill="#1f3266"/>
<circle cx="57.18" cy="537.50" r="1.75" fill="#1f3266"/>
<circle cx="59.42" cy="540.00" r="1.75" fill="#1f3266"/>
<circle cx="55.78" cy="542.50" r="1.75" fill="#1f3266"/>
<line x1="54.10" y1="537.70" x2="61.10" y2="537.70" stroke="#1f3266" stroke-width="1.1" />
<line x1="57.60" y1="536.00" x2="57.60" y2="539.40" stroke="#1f3266" stroke-width="1.1" />
<line x1="55.10" y1="536.00" x2="60.10" y2="536.00" stroke="#1f3266" stroke-width="1.1" />
<line x1="55.10" y1="539.40" x2="60.10" y2="539.40" stroke="#1f3266" stroke-width="1.1" />
<rect x="64.11" y="531.35" width="3.30" height="3.30" fill="#9a1032" />
<rect x="66.91" y="533.85" width="3.30" height="3.30" fill="#9a1032" />
<rect x="65.23" y="536.35" width="3.30" height="3.30" fill="#9a1032" />
<rect x="67.47" y="538.85" width="3.30" height="3.30" fill="#9a1032" />
<rect x="63.83" y="540.85" width="3.30" height="3.30" fill="#9a1032" />
<line x1="63.80" y1="538.30" x2="70.80" y2="538.30" stroke="#9a1032" stroke-width="1.1" />
<line x1="67.30" y1="536.50" x2="67.30" y2="540.00" stroke="#9a1032" stroke-width="1.1" />
<line x1="64.80" y1="536.50" x2="69.80" y2="536.50" stroke="#9a1032" stroke-width="1.1" />
<line x1="64.80" y1="540.00" x2="69.80" y2="540.00" stroke="#9a1032" stroke-width="1.1" />
<circle cx="80.12" cy="495.70" r="1.75" fill="#1f3266"/>
<circle cx="81.72" cy="503.70" r="1.75" fill="#1f3266"/>
<circle cx="80.76" cy="506.50" r="1.75" fill="#1f3266"/>
<circle cx="82.04" cy="509.80" r="1.75" fill="#1f3266"/>
<circle cx="79.96" cy="515.10" r="1.75" fill="#1f3266"/>
<line x1="77.50" y1="506.10" x2="84.50" y2="506.10" stroke="#1f3266" stroke-width="1.1" />
<line x1="81.00" y1="502.60" x2="81.00" y2="509.60" stroke="#1f3266" stroke-width="1.1" />
<line x1="78.50" y1="502.60" x2="83.50" y2="502.60" stroke="#1f3266" stroke-width="1.1" />
<line x1="78.50" y1="509.60" x2="83.50" y2="509.60" stroke="#1f3266" stroke-width="1.1" />
<rect x="86.85" y="494.75" width="3.30" height="3.30" fill="#9a1032" />
<rect x="88.85" y="505.85" width="3.30" height="3.30" fill="#9a1032" />
<rect x="87.65" y="509.35" width="3.30" height="3.30" fill="#9a1032" />
<rect x="89.25" y="512.85" width="3.30" height="3.30" fill="#9a1032" />
<rect x="86.65" y="515.65" width="3.30" height="3.30" fill="#9a1032" />
<line x1="86.10" y1="511.20" x2="93.10" y2="511.20" stroke="#9a1032" stroke-width="1.1" />
<line x1="89.60" y1="507.60" x2="89.60" y2="514.80" stroke="#9a1032" stroke-width="1.1" />
<line x1="87.10" y1="507.60" x2="92.10" y2="507.60" stroke="#9a1032" stroke-width="1.1" />
<line x1="87.10" y1="514.80" x2="92.10" y2="514.80" stroke="#9a1032" stroke-width="1.1" />
<polyline points="57.20,527.30 57.20,522.70 67.90,522.70 67.90,527.30" fill="none" stroke="#141414" stroke-width="1.3"/>
<text x="62.55" y="520.90" font-size="8.4" text-anchor="middle" font-weight="normal" fill="#141414" stroke="#141414" stroke-width="0.2">ns</text>
<polyline points="80.30,491.20 80.30,486.10 90.40,486.10 90.40,491.20" fill="none" stroke="#141414" stroke-width="1.3"/>
<text x="85.35" y="484.30" font-size="8.4" text-anchor="middle" font-weight="normal" fill="#141414" stroke="#141414" stroke-width="0.2">ns</text>
<text x="129.70" y="516.30" font-size="9.4" text-anchor="middle" font-weight="normal" fill="#141414" stroke="#141414" stroke-width="0.2" transform="rotate(-90 129.70 516.30)" textLength="46.8" lengthAdjust="spacingAndGlyphs">% TFR cells</text>
<line x1="151.50" y1="481.40" x2="151.50" y2="552.60" stroke="#141414" stroke-width="1.3" />
<line x1="148.30" y1="484.20" x2="151.50" y2="484.20" stroke="#141414" stroke-width="1.1" />
<text x="145.80" y="487.35" font-size="8.3" text-anchor="end" font-weight="normal" fill="#141414" stroke="#141414" stroke-width="0.2">80</text>
<line x1="148.30" y1="501.20" x2="151.50" y2="501.20" stroke="#141414" stroke-width="1.1" />
<text x="145.80" y="504.35" font-size="8.3" text-anchor="end" font-weight="normal" fill="#141414" stroke="#141414" stroke-width="0.2">60</text>
<line x1="148.30" y1="518.30" x2="151.50" y2="518.30" stroke="#141414" stroke-width="1.1" />
<text x="145.80" y="521.45" font-size="8.3" text-anchor="end" font-weight="normal" fill="#141414" stroke="#141414" stroke-width="0.2">40</text>
<line x1="148.30" y1="535.40" x2="151.50" y2="535.40" stroke="#141414" stroke-width="1.1" />
<text x="145.80" y="538.55" font-size="8.3" text-anchor="end" font-weight="normal" fill="#141414" stroke="#141414" stroke-width="0.2">20</text>
<line x1="148.30" y1="552.00" x2="151.50" y2="552.00" stroke="#141414" stroke-width="1.1" />
<text x="145.80" y="555.15" font-size="8.3" text-anchor="end" font-weight="normal" fill="#141414" stroke="#141414" stroke-width="0.2">0</text>
<line x1="148.00" y1="552.50" x2="197.40" y2="552.50" stroke="#141414" stroke-width="1.3" />
<line x1="162.20" y1="552.50" x2="162.20" y2="555.50" stroke="#141414" stroke-width="1.3" />
<line x1="185.30" y1="552.50" x2="185.30" y2="555.50" stroke="#141414" stroke-width="1.3" />
<text x="165.50" y="559.20" font-size="8" text-anchor="end" font-weight="normal" fill="#141414" stroke="#141414" stroke-width="0.2" transform="rotate(-45 165.50 559.20)">Naive</text>
<text x="188.60" y="559.20" font-size="8" text-anchor="end" font-weight="normal" fill="#141414" stroke="#141414" stroke-width="0.2" transform="rotate(-45 188.60 559.20)">Immunized</text>
<circle cx="161.20" cy="460.00" r="1.7" fill="#1e2b55"/>
<text x="165.20" y="462.80" font-size="8.2" text-anchor="start" font-weight="normal" fill="#141414" stroke="#141414" stroke-width="0.2">WT</text>
<rect x="159.60" y="468.90" width="3.20" height="3.20" fill="#7a1232" />
<text x="165.20" y="473.30" font-size="8.2" text-anchor="start" font-weight="normal" fill="#141414" stroke="#141414" stroke-width="0.2">sdc1</text>
<text x="182.80" y="469.50" font-size="5.6" text-anchor="start" font-weight="normal" fill="#141414" stroke="#141414" stroke-width="0.15">-/-</text>
<circle cx="156.04" cy="505.00" r="1.75" fill="#1f3266"/>
<circle cx="159.24" cy="507.00" r="1.75" fill="#1f3266"/>
<circle cx="157.32" cy="508.50" r="1.75" fill="#1f3266"/>
<circle cx="159.88" cy="510.00" r="1.75" fill="#1f3266"/>
<circle cx="155.72" cy="511.50" r="1.75" fill="#1f3266"/>
<line x1="154.30" y1="508.30" x2="161.30" y2="508.30" stroke="#1f3266" stroke-width="1.1" />
<line x1="157.80" y1="507.00" x2="157.80" y2="509.60" stroke="#1f3266" stroke-width="1.1" />
<line x1="155.30" y1="507.00" x2="160.30" y2="507.00" stroke="#1f3266" stroke-width="1.1" />
<line x1="155.30" y1="509.60" x2="160.30" y2="509.60" stroke="#1f3266" stroke-width="1.1" />
<rect x="163.29" y="501.35" width="3.30" height="3.30" fill="#9a1032" />
<rect x="166.49" y="503.35" width="3.30" height="3.30" fill="#9a1032" />
<rect x="164.57" y="505.35" width="3.30" height="3.30" fill="#9a1032" />
<rect x="167.13" y="507.85" width="3.30" height="3.30" fill="#9a1032" />
<rect x="162.97" y="509.85" width="3.30" height="3.30" fill="#9a1032" />
<line x1="163.20" y1="507.00" x2="170.20" y2="507.00" stroke="#9a1032" stroke-width="1.1" />
<line x1="166.70" y1="505.00" x2="166.70" y2="509.00" stroke="#9a1032" stroke-width="1.1" />
<line x1="164.20" y1="505.00" x2="169.20" y2="505.00" stroke="#9a1032" stroke-width="1.1" />
<line x1="164.20" y1="509.00" x2="169.20" y2="509.00" stroke="#9a1032" stroke-width="1.1" />
<circle cx="178.98" cy="533.00" r="1.75" fill="#1f3266"/>
<circle cx="181.38" cy="535.00" r="1.75" fill="#1f3266"/>
<circle cx="179.94" cy="537.00" r="1.75" fill="#1f3266"/>
<circle cx="181.86" cy="539.00" r="1.75" fill="#1f3266"/>
<circle cx="178.74" cy="541.00" r="1.75" fill="#1f3266"/>
<line x1="176.80" y1="537.40" x2="183.80" y2="537.40" stroke="#1f3266" stroke-width="1.1" />
<line x1="180.30" y1="535.50" x2="180.30" y2="539.30" stroke="#1f3266" stroke-width="1.1" />
<line x1="177.80" y1="535.50" x2="182.80" y2="535.50" stroke="#1f3266" stroke-width="1.1" />
<line x1="177.80" y1="539.30" x2="182.80" y2="539.30" stroke="#1f3266" stroke-width="1.1" />
<rect x="185.01" y="532.35" width="3.30" height="3.30" fill="#9a1032" />
<rect x="189.81" y="533.35" width="3.30" height="3.30" fill="#9a1032" />
<rect x="186.93" y="534.35" width="3.30" height="3.30" fill="#9a1032" />
<rect x="190.77" y="533.15" width="3.30" height="3.30" fill="#9a1032" />
<line x1="185.80" y1="535.00" x2="192.80" y2="535.00" stroke="#9a1032" stroke-width="1.1" />
<line x1="189.30" y1="534.30" x2="189.30" y2="535.70" stroke="#9a1032" stroke-width="1.1" />
<line x1="186.80" y1="534.30" x2="191.80" y2="534.30" stroke="#9a1032" stroke-width="1.1" />
<line x1="186.80" y1="535.70" x2="191.80" y2="535.70" stroke="#9a1032" stroke-width="1.1" />
<polyline points="157.20,497.20 157.20,492.60 167.90,492.60 167.90,497.20" fill="none" stroke="#141414" stroke-width="1.3"/>
<text x="162.55" y="490.80" font-size="8.4" text-anchor="middle" font-weight="normal" fill="#141414" stroke="#141414" stroke-width="0.2">ns</text>
<polyline points="179.70,527.30 179.70,522.70 190.00,522.70 190.00,527.30" fill="none" stroke="#141414" stroke-width="1.3"/>
<text x="184.85" y="520.90" font-size="8.4" text-anchor="middle" font-weight="normal" fill="#141414" stroke="#141414" stroke-width="0.2">ns</text>
<text x="224.30" y="456.40" font-size="11.9" text-anchor="start" font-weight="bold" fill="#000">I</text>
<text x="234.60" y="516.90" font-size="9.4" text-anchor="middle" font-weight="normal" fill="#141414" stroke="#141414" stroke-width="0.2" transform="rotate(-90 234.60 516.90)" textLength="51.5" lengthAdjust="spacingAndGlyphs">% GC B cells</text>
<line x1="256.50" y1="481.60" x2="256.50" y2="553.00" stroke="#141414" stroke-width="1.3" />
<line x1="253.30" y1="484.40" x2="256.50" y2="484.40" stroke="#141414" stroke-width="1.1" />
<text x="250.80" y="487.55" font-size="8.3" text-anchor="end" font-weight="normal" fill="#141414" stroke="#141414" stroke-width="0.2">2.0</text>
<line x1="253.30" y1="501.40" x2="256.50" y2="501.40" stroke="#141414" stroke-width="1.1" />
<text x="250.80" y="504.55" font-size="8.3" text-anchor="end" font-weight="normal" fill="#141414" stroke="#141414" stroke-width="0.2">1.5</text>
<line x1="253.30" y1="518.60" x2="256.50" y2="518.60" stroke="#141414" stroke-width="1.1" />
<text x="250.80" y="521.75" font-size="8.3" text-anchor="end" font-weight="normal" fill="#141414" stroke="#141414" stroke-width="0.2">1.0</text>
<line x1="253.30" y1="535.20" x2="256.50" y2="535.20" stroke="#141414" stroke-width="1.1" />
<text x="250.80" y="538.35" font-size="8.3" text-anchor="end" font-weight="normal" fill="#141414" stroke="#141414" stroke-width="0.2">0.5</text>
<line x1="253.30" y1="552.40" x2="256.50" y2="552.40" stroke="#141414" stroke-width="1.1" />
<text x="250.80" y="555.55" font-size="8.3" text-anchor="end" font-weight="normal" fill="#141414" stroke="#141414" stroke-width="0.2">0.0</text>
<line x1="252.50" y1="552.50" x2="302.60" y2="552.50" stroke="#141414" stroke-width="1.3" />
<line x1="270.90" y1="552.50" x2="270.90" y2="555.50" stroke="#141414" stroke-width="1.3" />
<line x1="291.30" y1="552.50" x2="291.30" y2="555.50" stroke="#141414" stroke-width="1.3" />
<text x="274.20" y="559.50" font-size="8" text-anchor="end" font-weight="normal" fill="#141414" stroke="#141414" stroke-width="0.2" transform="rotate(-45 274.20 559.50)">Naive</text>
<text x="294.60" y="559.50" font-size="8" text-anchor="end" font-weight="normal" fill="#141414" stroke="#141414" stroke-width="0.2" transform="rotate(-45 294.60 559.50)">Immunized</text>
<circle cx="267.50" cy="459.80" r="1.7" fill="#1e2b55"/>
<text x="271.60" y="462.60" font-size="8.2" text-anchor="start" font-weight="normal" fill="#141414" stroke="#141414" stroke-width="0.2">WT</text>
<rect x="265.90" y="469.60" width="3.20" height="3.20" fill="#7a1232" />
<text x="271.60" y="474.00" font-size="8.2" text-anchor="start" font-weight="normal" fill="#141414" stroke="#141414" stroke-width="0.2">sdc1</text>
<text x="289.20" y="470.00" font-size="5.6" text-anchor="start" font-weight="normal" fill="#141414" stroke="#141414" stroke-width="0.15">-/-</text>
<circle cx="262.60" cy="548.50" r="1.75" fill="#1f3266"/>
<circle cx="266.60" cy="549.50" r="1.75" fill="#1f3266"/>
<circle cx="264.20" cy="550.00" r="1.75" fill="#1f3266"/>
<circle cx="267.40" cy="549.00" r="1.75" fill="#1f3266"/>
<line x1="260.30" y1="549.30" x2="269.30" y2="549.30" stroke="#1f3266" stroke-width="1.1" />
<line x1="264.80" y1="548.80" x2="264.80" y2="549.80" stroke="#1f3266" stroke-width="1.1" />
<line x1="262.30" y1="548.80" x2="267.30" y2="548.80" stroke="#1f3266" stroke-width="1.1" />
<line x1="262.30" y1="549.80" x2="267.30" y2="549.80" stroke="#1f3266" stroke-width="1.1" />
<rect x="270.15" y="547.35" width="3.30" height="3.30" fill="#9a1032" />
<rect x="274.15" y="548.35" width="3.30" height="3.30" fill="#9a1032" />
<rect x="271.75" y="547.85" width="3.30" height="3.30" fill="#9a1032" />
<rect x="274.95" y="548.85" width="3.30" height="3.30" fill="#9a1032" />
<line x1="269.50" y1="549.80" x2="278.50" y2="549.80" stroke="#9a1032" stroke-width="1.1" />
<line x1="274.00" y1="549.30" x2="274.00" y2="550.30" stroke="#9a1032" stroke-width="1.1" />
<line x1="271.50" y1="549.30" x2="276.50" y2="549.30" stroke="#9a1032" stroke-width="1.1" />
<line x1="271.50" y1="550.30" x2="276.50" y2="550.30" stroke="#9a1032" stroke-width="1.1" />
<circle cx="285.10" cy="496.30" r="1.75" fill="#1f3266"/>
<circle cx="289.10" cy="500.00" r="1.75" fill="#1f3266"/>
<circle cx="286.70" cy="506.00" r="1.75" fill="#1f3266"/>
<circle cx="289.90" cy="514.90" r="1.75" fill="#1f3266"/>
<line x1="282.80" y1="504.30" x2="291.80" y2="504.30" stroke="#1f3266" stroke-width="1.1" />
<line x1="287.30" y1="500.50" x2="287.30" y2="508.10" stroke="#1f3266" stroke-width="1.1" />
<line x1="284.80" y1="500.50" x2="289.80" y2="500.50" stroke="#1f3266" stroke-width="1.1" />
<line x1="284.80" y1="508.10" x2="289.80" y2="508.10" stroke="#1f3266" stroke-width="1.1" />
<rect x="292.75" y="504.35" width="3.30" height="3.30" fill="#9a1032" />
<rect x="296.75" y="507.35" width="3.30" height="3.30" fill="#9a1032" />
<rect x="294.35" y="509.35" width="3.30" height="3.30" fill="#9a1032" />
<rect x="297.55" y="511.35" width="3.30" height="3.30" fill="#9a1032" />
<rect x="292.35" y="513.75" width="3.30" height="3.30" fill="#9a1032" />
<line x1="292.10" y1="511.40" x2="301.10" y2="511.40" stroke="#9a1032" stroke-width="1.1" />
<line x1="296.60" y1="509.60" x2="296.60" y2="513.20" stroke="#9a1032" stroke-width="1.1" />
<line x1="294.10" y1="509.60" x2="299.10" y2="509.60" stroke="#9a1032" stroke-width="1.1" />
<line x1="294.10" y1="513.20" x2="299.10" y2="513.20" stroke="#9a1032" stroke-width="1.1" />
<polyline points="263.50,543.20 263.50,538.70 275.40,538.70 275.40,543.20" fill="none" stroke="#141414" stroke-width="1.3"/>
<text x="269.45" y="536.90" font-size="8.4" text-anchor="middle" font-weight="normal" fill="#141414" stroke="#141414" stroke-width="0.2">ns</text>
<polyline points="287.30,491.60 287.30,487.00 297.40,487.00 297.40,491.60" fill="none" stroke="#141414" stroke-width="1.3"/>
<text x="292.35" y="485.20" font-size="8.4" text-anchor="middle" font-weight="normal" fill="#141414" stroke="#141414" stroke-width="0.2">ns</text>
<rect x="0" y="0" width="520" height="598" fill="none" stroke="#000" stroke-width="3.0"/>
</svg>
</body></html>
